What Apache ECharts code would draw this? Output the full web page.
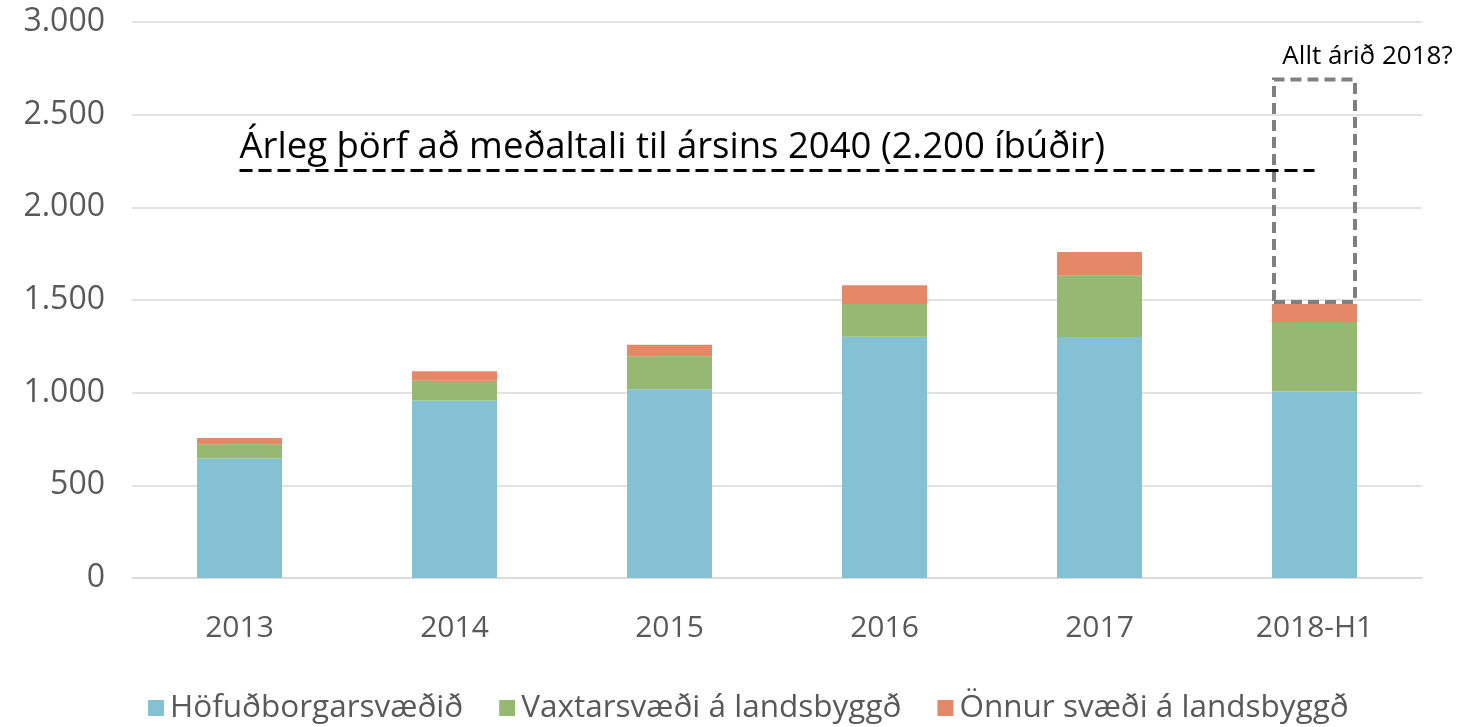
<!DOCTYPE html>
<html>
<head>
<meta charset="utf-8">
<script src="https://cdn.jsdelivr.net/npm/echarts@6/dist/echarts.min.js"></script>
<style>
  html, body { margin: 0; padding: 0; background: #fff; }
  #chart { width: 1460px; height: 727px; }
</style>
</head>
<body>
<div id="chart"></div>
<script>
// gögn lesin af myndinni
var years = ['2013', '2014', '2015', '2016', '2017', '2018-H1']
var hofudborg = [645, 958, 1018, 1302, 1300, 1006]
var vaxtarsvaedi = [76, 106, 178, 176, 331, 375]
var onnurSvaedi = [34, 51, 63, 101, 128, 97]
var alltArid = [null, null, null, null, null, 1222] // ágiskun fyrir allt árið 2018
var threshold = 2200
var thresholdLabel = 'Árleg þörf að meðaltali til ársins 2040 (2.200 íbúðir)'
var projectionLabel = 'Allt árið 2018?'
var yMax = 3000
var yStep = 500

var chart = echarts.init(document.getElementById('chart'))

var fmt = function (v) {
  return String(v).replace(/\B(?=(\d{3})+(?!\d))/g, '.')
}

chart.setOption({
  textStyle: { fontFamily: 'Open Sans' },
  animation: false,
  grid: {
    left: 132,
    right: 38,
    top: 22,
    bottom: 149
  },
  legend: {
    data: ['Höfuðborgarsvæðið', 'Vaxtarsvæði á landsbyggð', 'Önnur svæði á landsbyggð'],
    left: 143,
    bottom: -2,
    icon: 'rect',
    itemWidth: 16,
    itemHeight: 16,
    itemGap: 36,
    textStyle: {
      color: '#595959',
      fontSize: 31.5,
      padding: [0, 0, 0, 1]
    }
  },
  xAxis: {
    type: 'category',
    data: years,
    axisLine: { lineStyle: { color: '#d9d9d9', width: 1.5 } },
    axisTick: { show: false },
    axisLabel: {
      color: '#595959',
      fontSize: 30,
      margin: 35
    }
  },
  yAxis: {
    type: 'value',
    min: 0,
    max: yMax,
    interval: yStep,
    axisLine: { show: false },
    axisTick: { show: false },
    axisLabel: {
      color: '#595959',
      fontSize: 32,
      margin: 27,
      formatter: fmt
    },
    splitLine: {
      lineStyle: { color: '#d9d9d9', width: 1.5 }
    }
  },
  series: [
    {
      name: 'Höfuðborgarsvæðið',
      type: 'bar',
      stack: 'total',
      barWidth: 85,
      data: hofudborg,
      itemStyle: { color: '#84c1d3' },
      markLine: {
        symbol: 'none',
        silent: true,
        lineStyle: { color: '#000', width: 3, type: [13, 6] },
        label: {
          show: true,
          position: 'insideStartTop',
          formatter: thresholdLabel,
          color: '#000',
          fontSize: 36.5,
          distance: [0, 4]
        },
        data: [[
          { coord: [years[0], threshold] },
          { coord: [years[years.length - 1], threshold] }
        ]]
      }
    },
    {
      name: 'Vaxtarsvæði á landsbyggð',
      type: 'bar',
      stack: 'total',
      data: vaxtarsvaedi,
      itemStyle: { color: '#95b872' }
    },
    {
      name: 'Önnur svæði á landsbyggð',
      type: 'bar',
      stack: 'total',
      data: onnurSvaedi,
      itemStyle: { color: '#e58867' }
    },
    {
      name: 'Allt árið',
      type: 'bar',
      stack: 'total',
      data: alltArid,
      itemStyle: {
        color: 'rgba(0,0,0,0)',
        borderColor: '#808080',
        borderWidth: 4,
        borderType: [11, 6]
      },
      label: {
        show: true,
        position: 'top',
        formatter: projectionLabel,
        color: '#000',
        fontSize: 26,
        offset: [53, -3]
      }
    }
  ]
})
</script>
</body>
</html>
